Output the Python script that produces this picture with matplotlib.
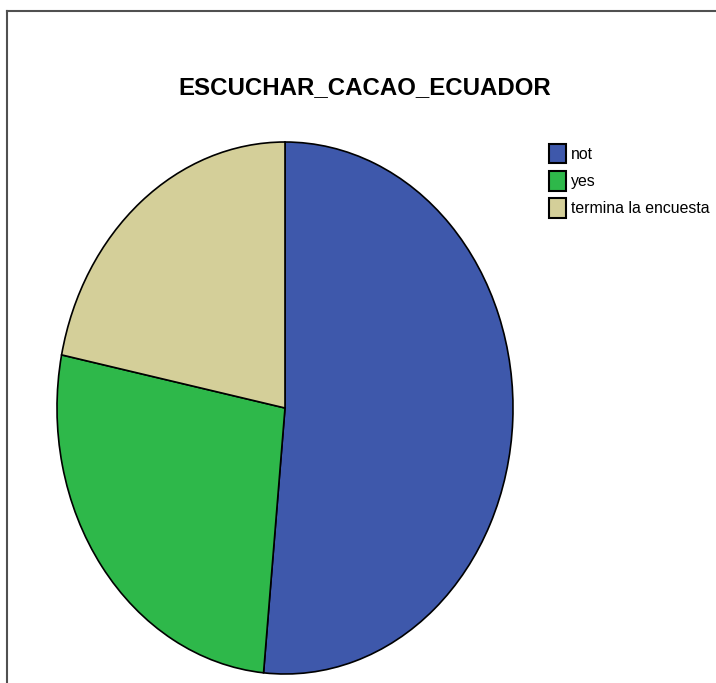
import matplotlib
matplotlib.use("Agg")
import matplotlib.pyplot as plt
from matplotlib.lines import Line2D

title = "ESCUCHAR_CACAO_ECUADOR"
categories = ["not", "yes", "termina la encuesta"]
values = [51.5, 26.7, 21.8]
colors = ["#3e58ab", "#2eb84a", "#d4cf99"]

plt.rcParams['font.family'] = ['Liberation Sans', 'DejaVu Sans']

W, H = 716, 683
fig = plt.figure(figsize=(W / 100, H / 100), dpi=100)
fig.patch.set_facecolor("white")

# frame lines (left and top)
fig.add_artist(Line2D([7.5 / W, 7.5 / W], [0, 1 - 10.5 / H], transform=fig.transFigure,
                      color="#505050", lw=1.5))
fig.add_artist(Line2D([7.5 / W, 1], [1 - 10.5 / H, 1 - 10.5 / H], transform=fig.transFigure,
                      color="#505050", lw=1.5))

# pie axes (elliptical pie)
left, right, top, bottom = 57, 513, 142, 674
ax = fig.add_axes([left / W, 1 - bottom / H, (right - left) / W, (bottom - top) / H])
wedges, _ = ax.pie(values, colors=colors, startangle=90, counterclock=False,
                   wedgeprops=dict(edgecolor="black", linewidth=1.2))
ax.set_aspect("auto")
ax.set_xlim(-1, 1)
ax.set_ylim(-1, 1)
ax.axis("off")

fig.text(365 / W, 1 - 87.5 / H, title, ha="center", va="center",
         fontsize=17.3, fontweight="bold")

leg = fig.legend(wedges, categories, loc="upper left",
                 bbox_to_anchor=(548.5 / W, 1 - 144 / H),
                 frameon=False, fontsize=11.4,
                 handlelength=1.12, handleheight=1.5,
                 handletextpad=0.3, labelspacing=0.5,
                 borderpad=0, borderaxespad=0)
for h in leg.legend_handles:
    h.set_edgecolor("black")
    h.set_linewidth(1.5)

fig.savefig("out.png", dpi=100)
